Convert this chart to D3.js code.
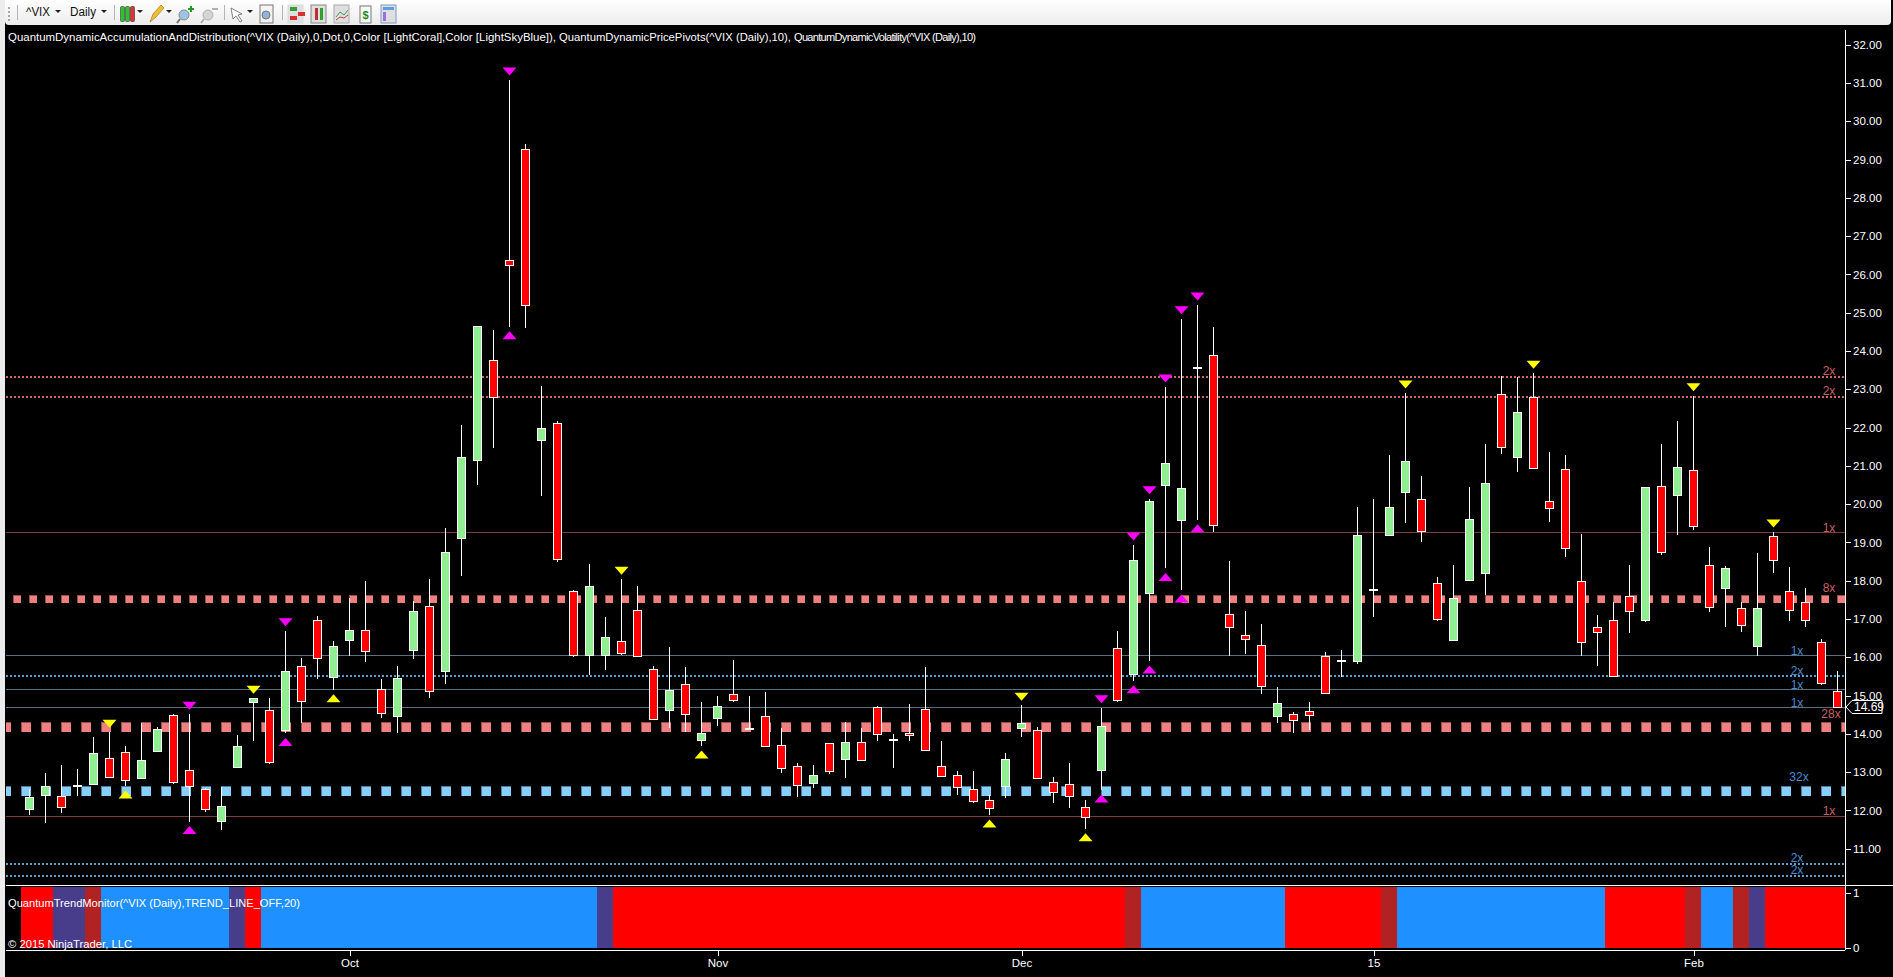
<!doctype html>
<html lang="en">
<head>
<meta charset="utf-8">
<title>VIX daily</title>
<script src="https://d3js.org/d3.v7.min.js"></script>
<style type="text/css">
  html, body { margin:0; padding:0; background:#000; overflow:hidden; }
  svg { display:block; font-family:"Liberation Sans", Arial, sans-serif; }
  .axis text { fill:#fff; font-size:11.5px; font-family:"Liberation Sans", Arial, sans-serif; }
  .axis line { stroke:#fff; shape-rendering:crispEdges; }
  .axis path { display:none; }
  .caption { fill:#fff; font-size:11px; }
  .crisp { shape-rendering:crispEdges; }
</style>
</head>
<body>
<script type="text/javascript">

  // one entry per trading day
  var opens = [
    12.02,12.39,12.37,12.64,12.67,13.36,13.52,12.83,13.54,14.49,
    13.05,12.55,11.71,13.12,14.82,14.62,14.09,15.77,16.97,15.47,
    16.44,16.71,15.17,14.45,16.17,17.33,15.63,19.10,21.14,23.76,
    26.37,29.27,21.66,22.11,17.72,16.04,16.04,16.42,17.23,15.69,
    14.61,15.29,13.82,14.40,15.03,14.15,14.46,13.70,13.15,12.70,
    13.75,13.33,13.78,14.69,13.86,14.02,14.64,13.15,12.92,12.55,
    12.26,12.62,14.14,14.09,12.73,12.68,12.08,13.04,16.23,15.55,
    17.66,20.48,19.57,23.56,23.89,17.12,16.57,16.31,14.45,14.51,
    14.59,16.03,15.91,15.89,17.76,19.18,20.30,20.13,17.93,16.44,
    18.01,18.19,22.87,21.21,22.79,20.07,20.91,17.99,16.78,16.97,
    17.59,16.96,20.47,20.22,20.88,18.40,17.79,17.28,16.28,19.16,
    17.72,17.44,16.39,15.11];
  var closes = [
    12.34,12.63,12.07,12.64,13.49,12.86,12.78,13.31,14.12,12.73,
    12.62,12.02,12.11,13.67,14.93,13.25,15.63,14.84,15.97,16.29,
    16.71,16.15,14.53,15.45,17.20,15.10,18.74,21.22,24.65,22.78,
    26.23,25.18,21.98,18.55,16.04,17.85,16.52,16.10,16.02,14.37,
    15.14,14.50,14.02,14.72,14.87,14.15,13.67,13.09,12.65,12.92,
    13.01,13.78,13.30,13.99,13.86,13.95,13.56,12.88,12.60,12.23,
    12.05,13.34,14.27,12.83,12.47,12.36,11.81,14.20,14.87,18.53,
    20.07,21.07,20.41,23.56,19.44,16.77,16.47,15.24,14.80,14.35,
    14.48,15.06,15.91,19.19,17.76,19.92,21.12,19.28,16.98,17.54,
    19.60,20.55,21.48,22.40,20.93,19.88,18.84,16.38,16.64,15.50,
    17.19,20.44,18.73,20.96,19.41,17.30,18.33,16.83,17.28,18.53,
    17.22,16.97,15.32,14.69];
  var highs = [
    12.56,12.97,13.18,13.07,13.91,14.04,13.68,14.29,14.17,14.51,
    14.51,12.59,12.60,13.97,14.93,14.93,16.69,15.97,17.07,16.43,
    17.56,17.99,15.44,15.77,17.47,18.04,19.37,22.07,24.65,24.54,
    31.08,29.40,23.08,22.17,17.75,18.44,17.05,18.04,17.86,15.77,
    16.26,15.74,14.82,14.99,15.93,14.99,15.09,14.16,13.23,13.19,
    13.75,14.31,14.15,14.73,14.00,14.78,15.75,13.81,13.03,13.03,
    12.39,13.50,14.75,14.17,12.87,13.23,12.26,14.68,16.69,18.93,
    20.14,23.06,24.84,25.20,24.63,18.52,17.21,16.87,15.23,14.56,
    14.83,16.13,16.19,19.92,20.14,21.29,22.90,20.74,18.09,18.40,
    20.45,21.57,23.35,23.33,23.42,21.36,21.29,19.22,17.11,17.44,
    18.41,20.44,21.57,22.17,22.83,18.87,18.38,17.44,18.73,19.27,
    18.36,17.81,16.47,15.64];
  var lows = [
    11.88,11.68,11.94,12.38,12.67,12.86,12.64,12.83,13.54,12.69,
    11.71,11.96,11.50,13.12,13.82,13.21,14.01,14.29,15.44,15.15,
    16.04,15.88,14.42,14.02,15.96,14.94,15.30,18.12,20.50,21.47,
    24.63,24.60,20.21,18.50,16.02,15.54,15.67,16.06,16.00,14.37,
    14.16,14.06,13.68,14.21,14.82,14.13,13.67,12.98,12.35,12.59,
    12.96,12.85,13.30,13.81,13.11,13.81,13.56,12.88,12.40,12.20,
    11.88,12.33,13.92,12.83,12.20,12.07,11.52,12.53,14.82,15.39,
    15.90,18.32,17.76,19.59,19.26,16.03,16.09,15.03,14.29,14.01,
    14.10,15.06,15.48,15.83,17.04,19.18,19.52,19.01,16.96,16.44,
    18.01,17.63,21.32,20.84,20.93,19.54,18.62,16.04,15.78,15.50,
    16.64,16.91,18.66,19.20,19.33,17.19,16.80,16.65,16.04,18.19,
    16.96,16.80,15.27,14.69];

  // pivot markers, as day numbers
  var pivotHighMagenta = [10,16,30,67,69,70,71,72,73];
  var pivotHighYellow  = [5,14,37,62,86,94,104,109];
  var pivotLowMagenta  = [10,16,30,67,69,70,71,72,73];
  var pivotLowYellow   = [6,19,42,60,66];

  // accumulation / distribution levels
  var levelPrices = [23.33,22.81,19.26,17.51,16.05,15.50,15.16,14.69,14.17,12.50,11.85,10.60,10.28];
  var levelKinds  = ["coralDots","coralDots","coralLine","coralSmall","blueLine","blueDots","blueLine","blueLine","coralBig","blueBig","coralLine","blueDots","blueDots"];
  var levelLabels = ["2x","2x","1x","8x","1x","2x","1x","1x","28x","32x","1x","2x","2x"];

  // trend monitor, runs of days
  var trendStates = ["red","purple","brown","blue","purple","red","blue","purple","red","brown","blue","red","brown","blue","red","brown","blue","brown","purple","red"];
  var trendDays   = [2,2,1,8,1,1,21,1,32,1,9,6,1,13,5,1,2,1,1,5];

  var dateTicks  = [20,43,62,84,104];
  var dateLabels = ["Oct","Nov","Dec","15","Feb"];
  var priceTicks = [11,12,13,14,15,16,17,18,19,20,21,22,23,24,25,26,27,28,29,30,31,32];
  var lastPrice  = 14.69;

  var width = 1893, height = 977;
  var chartLeft = 5, axisX = 1845, plotTop = 30, panelTop = 886, panelBottom = 950;

  var colours = {red:"#ff0000", purple:"#483d8b", brown:"#b22222", blue:"#1e90ff"};

  var xScale = d3.scaleLinear().domain([0,113]).range([29.5,1837.5]);
  var yScale = d3.scaleLinear().domain([32,11]).range([44.7,848.7]);
  var trendScale = d3.scaleLinear().domain([0,1]).range([948,892.7]);

  var svg = d3.select("body").append("svg")
    .attr("width", width)
    .attr("height", height)
    .style("background", "#000");

  /* ---------- levels ---------- */
  var levelStyle = {
    coralDots:{colour:"#c96a6a", w:2, dash:"2 2", off:0, lift:6, x:1829, text:"#c96060"},
    blueDots:{colour:"#5f9fcc", w:2, dash:"2 2", off:0, lift:6, x:1797, text:"#4a8ccf"},
    coralLine:{colour:"#7c3c3c", w:1, lift:5, x:1829, text:"#c96060"},
    blueLine:{colour:"#56707f", w:1, lift:5, x:1797, text:"#4a8ccf"},
    coralSmall:{colour:"#f08080", edge:"#8f5050", w:8, dash:"8 8", off:8.7, lift:12, x:1829, text:"#c96060"},
    coralBig:{colour:"#f08080", edge:"#8f5050", w:10, dash:"10 10", off:4.7, lift:14, x:1831, text:"#c96060"},
    blueBig:{colour:"#87cefa", edge:"#4f7c9a", w:10, dash:"10 10", off:4.7, lift:14, x:1799, text:"#4a8ccf"}
  };

  var levels = svg.append("g").attr("class", "levels");
  levelPrices.forEach(function(p, i) {
    var s = levelStyle[levelKinds[i]];
    var line = levels.append("line")
      .attr("class", "crisp")
      .attr("x1", chartLeft + 1).attr("x2", axisX)
      .attr("y1", yScale(p)).attr("y2", yScale(p))
      .style("stroke", s.edge || s.colour)
      .style("stroke-width", s.w);
    if (s.dash) line.style("stroke-dasharray", s.dash).style("stroke-dashoffset", s.off);
    if (s.edge) {
      // darker rim round the squares
      levels.append("line")
        .attr("class", "crisp")
        .attr("x1", chartLeft + 1).attr("x2", axisX)
        .attr("y1", yScale(p)).attr("y2", yScale(p))
        .style("stroke", s.colour)
        .style("stroke-width", s.w - 1)
        .style("stroke-dasharray", (s.w - 1) + " " + (s.w + 1))
        .style("stroke-dashoffset", s.off - 0.5);
    }
  });

  /* ---------- candles ---------- */
  var days = d3.range(opens.length);
  var candles = svg.append("g").attr("class", "candles");

  candles.selectAll(".wick").data(days).enter().append("line")
    .attr("class", "wick crisp")
    .attr("x1", d => xScale(d)).attr("x2", d => xScale(d))
    .attr("y1", d => yScale(highs[d])).attr("y2", d => yScale(lows[d]))
    .style("stroke", "#fff").style("stroke-width", 1);

  candles.selectAll(".body").data(days).enter().append("rect")
    .attr("class", "body crisp")
    .attr("x", d => xScale(d) - 4)
    .attr("width", 8)
    .attr("y", d => yScale(Math.max(opens[d], closes[d])))
    .attr("height", d => Math.abs(yScale(opens[d]) - yScale(closes[d])) || 1)
    .style("fill", d => closes[d] > opens[d] ? "#90ee90" : closes[d] < opens[d] ? "#ff0000" : "#fff")
    .style("stroke", "#fff").style("stroke-width", 1);

  /* ---------- pivots ---------- */
  function markDown(list, colour) {
    svg.append("g").selectAll("path").data(list).enter().append("path")
      .attr("d", d => "M" + (xScale(d) - 7) + "," + (yScale(highs[d]) - 12.5) + "h14l-7,8z")
      .style("fill", colour);
  }
  function markUp(list, colour) {
    svg.append("g").selectAll("path").data(list).enter().append("path")
      .attr("d", d => "M" + (xScale(d) - 7) + "," + (yScale(lows[d]) + 12.5) + "h14l-7,-8z")
      .style("fill", colour);
  }
  markDown(pivotHighMagenta, "#ff00ff");
  markDown(pivotHighYellow, "#ffff00");
  markUp(pivotLowMagenta, "#ff00ff");
  markUp(pivotLowYellow, "#ffff00");

  /* ---------- level labels ---------- */
  svg.append("g").selectAll("text").data(levelPrices).enter().append("text")
    .attr("x", (d, i) => levelStyle[levelKinds[i]].x)
    .attr("y", (d, i) => yScale(d) - levelStyle[levelKinds[i]].lift)
    .attr("dy", "0.35em")
    .attr("text-anchor", "middle")
    .style("font-size", "12px")
    .style("fill", (d, i) => levelStyle[levelKinds[i]].text)
    .text((d, i) => levelLabels[i]);

  /* ---------- trend monitor ---------- */
  var trendByDay = [];
  trendStates.forEach(function(state, i) {
    for (var n = 0; n < trendDays[i]; n++) trendByDay.push(state);
  });

  svg.append("g").selectAll("rect").data(trendByDay).enter().append("rect")
    .attr("class", "crisp")
    .attr("x", (d, i) => xScale(i) - 8.5)
    .attr("width", 16)
    .attr("y", trendScale(1.1))
    .attr("height", trendScale(0) - trendScale(1.1))
    .style("fill", d => colours[d]);

  /* ---------- frames and axes ---------- */
  svg.append("line").attr("class", "crisp")
    .attr("x1", chartLeft + 1).attr("x2", width).attr("y1", panelTop - 1).attr("y2", panelTop - 1)
    .style("stroke", "#fff");
  svg.append("line").attr("class", "crisp")
    .attr("x1", chartLeft + 1).attr("x2", axisX).attr("y1", panelBottom).attr("y2", panelBottom)
    .style("stroke", "#fff");
  svg.append("line").attr("class", "crisp")
    .attr("x1", axisX).attr("x2", axisX).attr("y1", plotTop).attr("y2", panelBottom)
    .style("stroke", "#fff");

  var yAxis = d3.axisRight(yScale)
    .tickValues(priceTicks)
    .tickFormat(d3.format(".2f"))
    .tickSize(6).tickPadding(2);
  svg.append("g").attr("class", "y axis")
    .attr("transform", "translate(" + axisX + ",0)")
    .call(yAxis);

  var trendAxis = d3.axisRight(trendScale)
    .tickValues([0,1])
    .tickFormat(d3.format("d"))
    .tickSize(6).tickPadding(2);
  svg.append("g").attr("class", "trend axis")
    .attr("transform", "translate(" + axisX + ",0)")
    .call(trendAxis);

  var xAxis = d3.axisBottom(xScale)
    .tickValues(dateTicks)
    .tickFormat((d, i) => dateLabels[i])
    .tickSize(6).tickPadding(3);
  svg.append("g").attr("class", "x axis")
    .attr("transform", "translate(0," + panelBottom + ")")
    .call(xAxis);

  /* ---------- last price tag ---------- */
  var tagY = Math.round(yScale(lastPrice));
  svg.append("path")
    .attr("d", "M" + (axisX + 1) + "," + tagY + "l6,-6.5h30v13h-30z")
    .style("fill", "#000").style("stroke", "#fff").style("stroke-width", 1);
  svg.append("text")
    .attr("x", axisX + 9).attr("y", tagY).attr("dy", "0.36em")
    .style("fill", "#fff").style("font-size", "12px")
    .text("14.69");

  /* ---------- captions ---------- */
  function caption(x, y, len, str, adjust) {
    svg.append("text").attr("class", "caption")
      .attr("x", x).attr("y", y).attr("dy", "0.35em")
      .attr("textLength", len).attr("lengthAdjust", adjust || "spacingAndGlyphs")
      .text(str);
  }
  caption(8, 37, 548, "QuantumDynamicAccumulationAndDistribution(^VIX (Daily),0,Dot,0,Color [LightCoral],Color [LightSkyBlue]),");
  caption(559, 37, 232, "QuantumDynamicPricePivots(^VIX (Daily),10),");
  caption(794, 37, 182, "QuantumDynamicVolatility(^VIX (Daily),10)", "spacing");
  caption(8, 903, 292, "QuantumTrendMonitor(^VIX (Daily),TREND_LINE_OFF,20)");
  caption(8, 944, 124, "\u00a9 2015 NinjaTrader, LLC");

  /* ---------- window chrome ---------- */
  svg.append("rect").attr("x", 0).attr("y", 0).attr("width", chartLeft).attr("height", height).style("fill", "#ececec");

  var grad = svg.append("defs").append("linearGradient")
    .attr("id", "bar").attr("x1", 0).attr("x2", 0).attr("y1", 0).attr("y2", 1);
  grad.append("stop").attr("offset", 0).attr("stop-color", "#ffffff");
  grad.append("stop").attr("offset", 1).attr("stop-color", "#ececec");

  var bar = svg.append("g").attr("class", "toolbar");
  bar.append("path")
    .attr("d", "M0,0H" + (width - 2) + "V21q0,4 -4,4H9q-4,0 -4,-4H0z")
    .style("fill", "url(#bar)");
  bar.append("rect").attr("x", 0).attr("y", 0).attr("width", chartLeft).attr("height", 25).style("fill", "#ececec");

  [7,11,15,19].forEach(function(y) {
    bar.append("rect").attr("x", 8).attr("y", y).attr("width", 2).attr("height", 2).style("fill", "#a8a8a8");
  });
  [17,114,224,282].forEach(function(x) {
    bar.append("line").attr("class", "crisp").attr("x1", x).attr("x2", x).attr("y1", 5).attr("y2", 20).style("stroke", "#b4b4b4");
  });

  function barText(x, len, str) {
    bar.append("text").attr("x", x).attr("y", 12).attr("dy", "0.36em")
      .attr("textLength", len).attr("lengthAdjust", "spacingAndGlyphs")
      .style("font-size", "12px").style("fill", "#111")
      .text(str);
  }
  barText(26, 24, "^VIX");
  barText(70, 26, "Daily");

  function dropArrow(x) {
    bar.append("path").attr("d", "M" + x + ",10h6l-3,3z").style("fill", "#222");
  }
  [55,101,137,166,247].forEach(dropArrow);

  // chart style icon
  [[120.5,"#30c030"],[125.5,"#30c030"],[130.5,"#e03030"]].forEach(function(c) {
    bar.append("rect").attr("x", c[0]).attr("y", 6.5).attr("width", 4).attr("height", 15).attr("rx", 1).style("fill", c[1]).style("stroke", "#333").style("stroke-width", 0.6);
  });
  // pencil
  bar.append("path").attr("d", "M150,22l3,-8l8,-9l3,3l-8,9z").style("fill", "#f0c030").style("stroke", "#9a7a20").style("stroke-width", 0.7);
  // zoom in / zoom out
  bar.append("circle").attr("cx", 184).attr("cy", 15).attr("r", 5).style("fill", "#9cc4e4").style("stroke", "#8a8a8a");
  bar.append("path").attr("d", "M180,19l-3,4").style("stroke", "#707070").style("stroke-width", 2);
  bar.append("path").attr("d", "M188,9h6M191,6v6").style("stroke", "#1aa01a").style("stroke-width", 2);
  bar.append("circle").attr("cx", 208).attr("cy", 15).attr("r", 5).style("fill", "#d4d4d4").style("stroke", "#b0b0b0");
  bar.append("path").attr("d", "M204,19l-3,4").style("stroke", "#b0b0b0").style("stroke-width", 2);
  bar.append("path").attr("d", "M212,9h6").style("stroke", "#b0b0b0").style("stroke-width", 2);
  // pointer
  bar.append("path").attr("d", "M231,8l11,6l-4,1l4,6l-2,1l-4,-6l-3,3z").style("fill", "#fff").style("stroke", "#666").style("stroke-width", 0.8);
  // page with magnifier
  bar.append("rect").attr("x", 260).attr("y", 5).attr("width", 13).attr("height", 18).style("fill", "#f4f4f4").style("stroke", "#777");
  bar.append("circle").attr("cx", 266).attr("cy", 15).attr("r", 4).style("fill", "#8fb4d8").style("stroke", "#777");
  // right hand icons
  [[288,"#dcdcdc"],[311,"#888"],[334,"#aaa"],[381,"#7a9cc6"]].forEach(function(c) {
    bar.append("rect").attr("x", c[0]).attr("y", 5).attr("width", 15).attr("height", 18).style("fill", "#dfdfdf").style("stroke", c[1]);
  });
  [[290,7,"#30a030"],[290,16,"#d83030"],[298,12,"#d83030"]].forEach(function(c) {
    bar.append("rect").attr("x", c[0]).attr("y", c[1]).attr("width", 7).attr("height", 4).style("fill", c[2]);
  });
  [[315,"#c03030"],[320,"#30a030"]].forEach(function(c) {
    bar.append("rect").attr("x", c[0]).attr("y", 8).attr("width", 3).attr("height", 12).style("fill", c[1]);
  });
  bar.append("path").attr("d", "M336,17l4,-5l4,3l4,-5").style("fill", "none").style("stroke", "#30a060");
  bar.append("path").attr("d", "M336,20l4,-3l4,1l4,-3").style("fill", "none").style("stroke", "#c04040");
  bar.append("rect").attr("x", 360).attr("y", 6).attr("width", 11).attr("height", 17).style("fill", "#fafafa").style("stroke", "#777");
  bar.append("text").attr("x", 365.5).attr("y", 19).attr("text-anchor", "middle").style("font-size", "11px").style("font-weight", "bold").style("fill", "#1a8a1a").text("$");
  bar.append("rect").attr("x", 383).attr("y", 7).attr("width", 11).attr("height", 3).style("fill", "#5aa0e0");
  bar.append("rect").attr("x", 383).attr("y", 12).attr("width", 3).attr("height", 9).style("fill", "#9a70e0");

</script>
</body>
</html>
